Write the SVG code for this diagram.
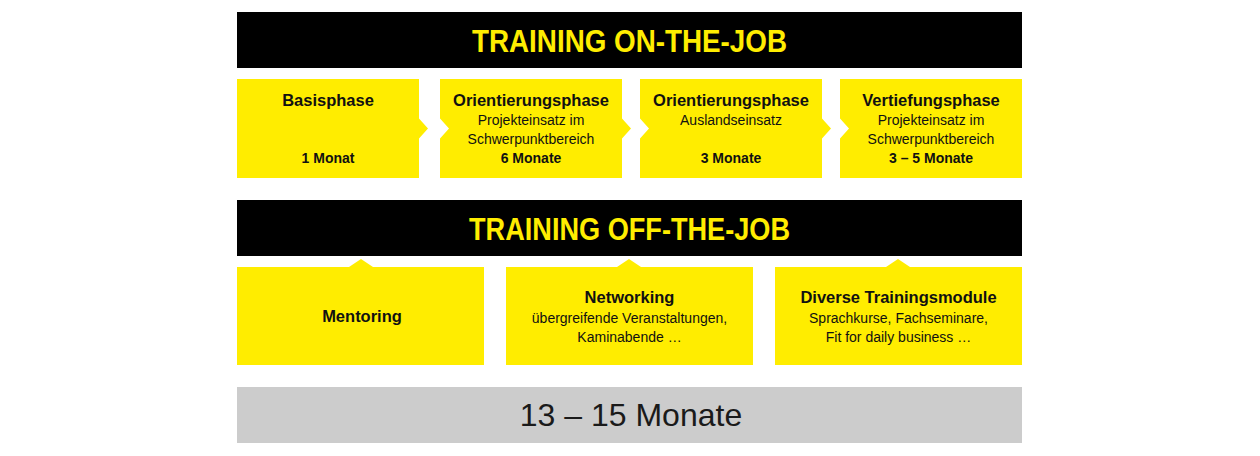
<svg xmlns="http://www.w3.org/2000/svg" width="1260" height="456" viewBox="0 0 1260 456">
<style>
.bar{fill:#000}
.box{fill:#ffed00}
.gray{fill:#cccccc}
.ttl{font-family:"Liberation Sans",Arial,sans-serif;font-weight:bold;font-size:32px;fill:#ffed00;text-anchor:middle}
.h{font-family:"Liberation Sans",Arial,sans-serif;font-weight:bold;font-size:16.5px;fill:#111;text-anchor:middle}
.s{font-family:"Liberation Sans",Arial,sans-serif;font-size:14px;fill:#111;text-anchor:middle}
.m{font-family:"Liberation Sans",Arial,sans-serif;font-weight:bold;font-size:14px;fill:#111;text-anchor:middle}
.big{font-family:"Liberation Sans",Arial,sans-serif;font-size:32px;fill:#1a1a1a;text-anchor:middle}
</style>
<rect width="1260" height="456" fill="#fff"/>
<g id="on-the-job">
<rect class="bar" x="237" y="12" width="785" height="56"/>
<text class="ttl" x="629.5" y="52" textLength="315" lengthAdjust="spacingAndGlyphs">TRAINING ON-THE-JOB</text>
</g>
<g id="basisphase">
<path class="box" d="M237,79 H419 V118.5 L428,128.5 L419,138.5 V178 H237 Z"/>
<text class="h" x="328" y="106">Basisphase</text>
<text class="m" x="328" y="163">1 Monat</text>
</g>
<g id="orientierung1">
<path class="box" d="M440,79 H622 V118.5 L631,128.5 L622,138.5 V178 H440 V138.5 L449,128.5 L440,118.5 Z"/>
<text class="h" x="531" y="106">Orientierungsphase</text>
<text class="s" x="531" y="125">Projekteinsatz im</text>
<text class="s" x="531" y="144">Schwerpunktbereich</text>
<text class="m" x="531" y="163">6 Monate</text>
</g>
<g id="orientierung2">
<path class="box" d="M640,79 H822 V118.5 L831,128.5 L822,138.5 V178 H640 V138.5 L649,128.5 L640,118.5 Z"/>
<text class="h" x="731" y="106">Orientierungsphase</text>
<text class="s" x="731" y="125">Auslandseinsatz</text>
<text class="m" x="731" y="163">3 Monate</text>
</g>
<g id="vertiefung">
<path class="box" d="M840,79 H1022 V178 H840 V138.5 L849,128.5 L840,118.5 Z"/>
<text class="h" x="931" y="106">Vertiefungsphase</text>
<text class="s" x="931" y="125">Projekteinsatz im</text>
<text class="s" x="931" y="144">Schwerpunktbereich</text>
<text class="m" x="931" y="163">3 – 5 Monate</text>
</g>
<g id="off-the-job">
<rect class="bar" x="237" y="200" width="785" height="56"/>
<text class="ttl" x="629.5" y="240" textLength="321" lengthAdjust="spacingAndGlyphs">TRAINING OFF-THE-JOB</text>
</g>
<g id="mentoring">
<path class="box" d="M237,267 H349 L361,259 L373,267 H484 V365 H237 Z"/>
<text class="h" x="362" y="322">Mentoring</text>
</g>
<g id="networking">
<path class="box" d="M506,267 H617 L629,259 L641,267 H753 V365 H506 Z"/>
<text class="h" x="629.5" y="303">Networking</text>
<text class="s" x="629.5" y="323">übergreifende Veranstaltungen,</text>
<text class="s" x="629.5" y="342">Kaminabende …</text>
</g>
<g id="trainingsmodule">
<path class="box" d="M775,267 H886 L898,259 L910,267 H1022 V365 H775 Z"/>
<text class="h" x="898.5" y="303">Diverse Trainingsmodule</text>
<text class="s" x="898.5" y="323">Sprachkurse, Fachseminare,</text>
<text class="s" x="898.5" y="342">Fit for daily business …</text>
</g>
<g id="dauer">
<rect class="gray" x="237" y="387" width="785" height="56"/>
<text class="big" x="631" y="426">13 – 15 Monate</text>
</g>
<g id="connectors"/>
</svg>
